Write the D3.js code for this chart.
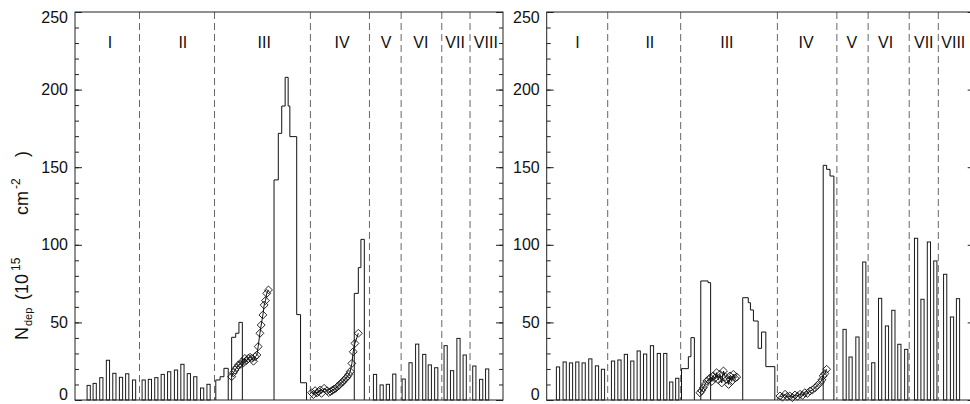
<!DOCTYPE html>
<html lang="en">
<head>
<meta charset="UTF-8">
<title>N_dep by region</title>
<style>
  body { margin: 0; background: #fff; }
  text { font-family: "Liberation Sans", Arial, Helvetica, sans-serif; fill: #111; }
</style>
</head>
<body>
<div id="chart"></div>
<script src="https://d3js.org/d3.v7.min.js"></script>
<script>
// ---- data (position along the cut, 0-100; N_dep in 1e15 cm^-2) ----
const regionNames = ["I", "II", "III", "IV", "V", "VI", "VII", "VIII"];
const yTicks = [0, 50, 100, 150, 200, 250];

// left panel
const leftDividers = [15.07, 32.6, 55.0, 68.8, 76.2, 85.7, 92.3];
const leftLabelPos = [8.2, 25.2, 44.2, 62.4, 72.7, 80.8, 88.8, 96.0];
const leftBarPos = [3.2, 4.6, 6.15, 7.7, 9.2, 10.75, 12.2, 13.8,
  16.05, 17.5, 19.0, 20.5, 22.0, 23.6, 25.1, 26.6, 28.1, 29.7, 31.2,
  70.1, 71.65, 73.1, 74.6,
  76.8, 78.4, 79.95, 81.6, 82.9, 84.4,
  86.6, 88.1, 89.6, 91.05,
  93.3, 94.9, 96.3];
const leftBarVal = [9.4, 10.7, 14.4, 25.6, 17.2, 14.6, 16.9, 12.9,
  12.9, 13.3, 14.4, 16.5, 18.2, 19.3, 23.0, 17.0, 15.0, 7.7, 10.1,
  16.5, 9.7, 10.1, 16.7,
  13.5, 24, 36, 29.4, 22.6, 20.8,
  35, 18.9, 39.7, 29,
  21.9, 13.3, 20];
const leftStepEdges = [
  [32.9, 33.9, 34.8, 35.8],
  [36.6, 37.55, 38.3, 39.1],
  [46.5, 47.5, 48.3, 49.1, 49.8, 50.2, 51.8, 52.7, 54.1],
  [65.25, 66.2, 66.8, 67.6]
];
const leftStepVals = [
  [12.9, 15, 20.4],
  [40.4, 43, 50],
  [141.8, 171.8, 189.4, 207.9, 189.4, 169.7, 55, 11.1],
  [68.7, 85.3, 103.5]
];
const leftDiaIIIPos = [36.6, 37.0, 37.4, 37.8, 38.2, 38.6, 39.0, 39.4, 39.7, 40.1, 40.5, 40.9,
  41.3, 41.7, 42.1, 42.5, 42.8, 43.2, 43.5, 43.9, 44.2, 44.5, 44.8, 45.2];
const leftDiaIIIVal = [15, 17.5, 19.3, 21, 22.6, 23, 24.7, 24, 26.8, 25.5, 26.8, 27.5,
  26.8, 25, 27.9, 29, 34.4, 43, 48.3, 54.8, 61.2, 64, 68.7, 70.9];
const leftDiaIVPos = [55.3, 55.7, 56.1, 56.5, 56.9, 57.3, 57.6, 58.2, 58.9, 59.3, 59.7, 60.1, 60.5,
  60.9, 61.3, 61.7, 62.1, 62.5, 62.9, 63.3, 63.6, 64.0, 64.3, 64.7, 65.0, 65.4, 66.2];
const leftDiaIVVal = [4.7, 3.5, 6, 4.5, 5.4, 6.5, 4.3, 7.5, 6, 4.8, 5.4, 6.2, 6.9,
  7.5, 8.6, 9.5, 10.7, 11.5, 12.9, 14, 15, 16.5, 18.3, 23.6, 31.1, 36.5, 43];

// right panel
const rightDividers = [14.25, 31.3, 53.9, 67.8, 75.1, 84.7, 91.5];
const rightLabelPos = [7.2, 24.1, 42.1, 60.6, 71.3, 79.2, 88.1, 95.0];
const rightBarPos = [2.64, 4.2, 5.68, 7.15, 8.64, 10.19, 11.75, 13.15,
  15.5, 17.0, 18.5, 20.0, 21.5, 23.0, 24.6, 26.2, 27.7, 29.1, 30.5,
  69.6, 71.0, 72.6, 74.2,
  76.3, 77.9, 79.5, 81.0, 82.4, 84.0,
  86.3, 87.8, 89.3, 90.8,
  93.1, 94.7, 96.1];
const rightBarVal = [21.3, 24.5, 23.9, 24.5, 23.9, 26.5, 22, 19.8,
  25.1, 25.8, 29.4, 25.1, 31.6, 29.6, 35, 30, 30, 11.6, 14,
  45.5, 27.7, 40.6, 88.9,
  24, 65.5, 47.7, 57.8, 35.9, 32.6,
  104.2, 64.9, 101.8, 89.6,
  81, 53.5, 65.3];
const rightStepEdges = [
  [31.5, 33.1, 33.7, 34.5],
  [36.0, 37.7, 38.3],
  [45.8, 47.1, 47.6, 48.3, 49.4, 50.2, 51.2, 53.3],
  [64.6, 65.4, 66.2, 67.1]
];
const rightStepVals = [
  [20.2, 27.9, 40.2],
  [76.7, 75.6],
  [65.9, 62.7, 58, 50.9, 33.3, 43.8, 21.5],
  [151.2, 148.6, 144.3]
];
const rightDiaIIIPos = [35.8, 36.2, 36.6, 37.0, 37.4, 37.8, 38.2, 38.6, 38.9, 39.3, 39.7, 40.1,
  40.5, 40.9, 41.3, 41.7, 42.1, 42.5, 42.8, 43.2, 43.6, 44.0, 44.4];
const rightDiaIIIVal = [4.7, 6, 7.9, 10, 12.2, 13, 14.4, 12, 15.5, 14, 17.6, 13,
  16.5, 11, 18.7, 15, 13.3, 10, 15.5, 12, 16.5, 14, 14.8];
const rightDiaIVPos = [54.5, 55.1, 55.7, 56.2, 56.8, 57.4, 58.0, 58.6, 59.2, 59.8, 60.3,
  60.9, 61.5, 62.1, 62.7, 63.3, 63.9, 64.3, 64.6, 65.0, 65.4];
const rightDiaIVVal = [2.6, 1.8, 3.7, 2.2, 2.6, 1.5, 3.2, 2.4, 3.7, 3, 4.7,
  4.2, 5.8, 6.5, 7.9, 9.5, 11.2, 13, 15.5, 17, 19.8];

// ---- layout ----
const width = 970, height = 404;
const panelW = 428, plotTop = 12, plotBottom = 400;

const svg = d3.select("#chart").append("svg")
  .attr("width", width).attr("height", height);

const y = d3.scaleLinear().domain([0, 250]).range([plotBottom, plotTop]);

function drawPanel(left, p) {
  const x = d3.scaleLinear().domain([0, 100]).range([left, left + panelW]);
  const g = svg.append("g");

  // region dividers
  g.selectAll(".div").data(p.dividers).enter().append("line")
    .attr("x1", d => x(d)).attr("x2", d => x(d))
    .attr("y1", plotTop).attr("y2", plotBottom)
    .attr("stroke", "#666").attr("stroke-width", 1)
    .attr("stroke-dasharray", "7,4");

  // region labels
  g.selectAll(".lab").data(regionNames).enter().append("text")
    .attr("x", (d, i) => x(p.labelPos[i])).attr("y", 48)
    .attr("text-anchor", "middle").style("font-size", "16px")
    .text(d => d);

  // separate bars
  const bw = 0.75;
  g.selectAll(".bar").data(p.barPos).enter().append("rect")
    .attr("x", d => x(d - bw / 2)).attr("width", x(bw) - x(0))
    .attr("y", (d, i) => y(p.barVal[i]))
    .attr("height", (d, i) => y(0) - y(p.barVal[i]))
    .attr("fill", "none").attr("stroke", "#1a1a1a").attr("stroke-width", 1);

  // step histograms
  const line = d3.line().x(d => x(d[0])).y(d => y(d[1]));
  p.stepEdges.forEach((edges, k) => {
    const vals = p.stepVals[k];
    const pts = [[edges[0], 0]];
    vals.forEach((v, i) => { pts.push([edges[i], v]); pts.push([edges[i + 1], v]); });
    pts.push([edges[edges.length - 1], 0]);
    g.append("path").attr("d", line(pts))
      .attr("fill", "none").attr("stroke", "#111").attr("stroke-width", 1);
  });

  // diamonds with connecting line
  const sym = d3.symbol().type(d3.symbolDiamond2 || d3.symbolDiamond).size(40);
  p.dia.forEach(([pos, val]) => {
    const pts = pos.map((d, i) => [d, val[i]]);
    g.append("path").attr("d", line(pts))
      .attr("fill", "none").attr("stroke", "#111").attr("stroke-width", 1);
    g.selectAll(null).data(pts).enter().append("path")
      .attr("d", sym)
      .attr("transform", d => `translate(${x(d[0])},${y(d[1])})`)
      .attr("fill", "none").attr("stroke", "#111").attr("stroke-width", 0.9);
  });

  // frame
  g.append("rect").attr("x", left).attr("y", plotTop)
    .attr("width", panelW).attr("height", plotBottom - plotTop)
    .attr("fill", "none").attr("stroke", "#222").attr("stroke-width", 1);

  // y axes with inward ticks
  const minor = d3.range(0, 251, 10);
  const ax = svg.append("g").attr("transform", `translate(${left},0)`);
  ax.call(d3.axisLeft(y).tickValues(minor).tickSize(-4).tickFormat(""));
  ax.select(".domain").remove();
  const axMaj = svg.append("g").attr("transform", `translate(${left},0)`)
    .call(d3.axisLeft(y).tickValues(yTicks).tickSize(-7).tickPadding(7));
  axMaj.select(".domain").remove();
  axMaj.selectAll("text").style("font-size", "16px").attr("fill", "#111")
    .attr("transform", d => d === 250 ? "translate(0,5)" : d === 0 ? "translate(0,-6)" : null);

  const axR = svg.append("g").attr("transform", `translate(${left + panelW},0)`);
  axR.call(d3.axisRight(y).tickValues(minor).tickSize(-4).tickFormat(""));
  axR.select(".domain").remove();
  const axR2 = svg.append("g").attr("transform", `translate(${left + panelW},0)`)
    .call(d3.axisRight(y).tickValues(yTicks).tickSize(-7).tickFormat(""));
  axR2.select(".domain").remove();
  svg.selectAll(".tick line").attr("stroke", "#222");
}

drawPanel(75, {
  dividers: leftDividers, labelPos: leftLabelPos,
  barPos: leftBarPos, barVal: leftBarVal,
  stepEdges: leftStepEdges, stepVals: leftStepVals,
  dia: [[leftDiaIIIPos, leftDiaIIIVal], [leftDiaIVPos, leftDiaIVVal]]
});
drawPanel(546.7, {
  dividers: rightDividers, labelPos: rightLabelPos,
  barPos: rightBarPos, barVal: rightBarVal,
  stepEdges: rightStepEdges, stepVals: rightStepVals,
  dia: [[rightDiaIIIPos, rightDiaIIIVal], [rightDiaIVPos, rightDiaIVVal]]
});

// y title, spread out like the original
const yt = svg.append("text")
  .attr("transform", "translate(28,340) rotate(-90)")
  .style("font-size", "18px");
yt.append("tspan").attr("x", 0).text("N");
yt.append("tspan").attr("x", 14).attr("dy", 4).style("font-size", "11px").text("dep");
yt.append("tspan").attr("x", 40).attr("dy", -4).text("(10");
yt.append("tspan").attr("x", 69).attr("dy", -8).style("font-size", "12px").text("15");
yt.append("tspan").attr("x", 125).attr("dy", 8).text("cm");
yt.append("tspan").attr("x", 151).attr("dy", -8).style("font-size", "12px").text("-2");
yt.append("tspan").attr("x", 183).attr("dy", 8).text(")");
</script>
</body>
</html>
